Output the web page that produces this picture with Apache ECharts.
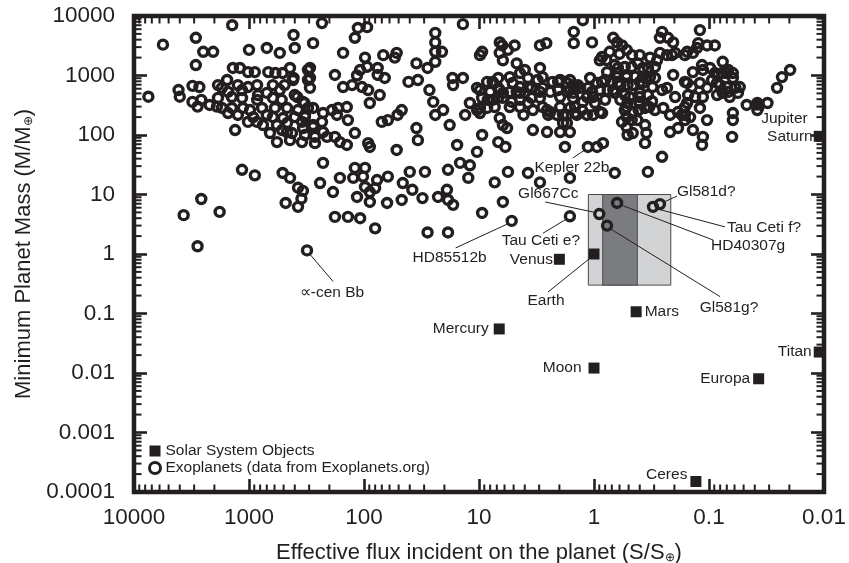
<!DOCTYPE html>
<html>
<head>
<meta charset="utf-8">
<script src="https://cdn.jsdelivr.net/npm/echarts@6/dist/echarts.min.js"></script>
<style>
  html, body { margin: 0; padding: 0; background: #ffffff; }
  #chart { width: 849px; height: 563px; }
</style>
</head>
<body>
<div id="chart"></div>
<script>
// ---- axis tick labels ----
const xTickLabels = ['10000', '1000', '100', '10', '1', '0.1', '0.01'];
const yTickLabels = ['10000', '1000', '100', '10', '1', '0.1', '0.01', '0.001', '0.0001'];

// ---- exoplanets: [effective flux S/S_earth, minimum mass M/M_earth] ----
const exoplanets = [
  [7500,440],[5600,3300],[2900,4300],[2500,2500],[2050,2500],[2900,1500],[1400,7000],[4100,570],[4000,440],[3100,670],
  [2700,640],[3100,360],[2600,390],[2800,300],[2200,320],[1900,300],[2600,8.4],[3700,4.5],[1800,5.1],[2800,1.35],
  [1150,26],[890,21],[510,23],[440,19],[480,7.2],[375,13],[375,6.2],[340,11.5],[350,8.5],
  [1000,2700],[700,2900],[540,2400],[410,4800],[400,2900],
  [1380,1340],[1200,1340],[1020,1140],[890,1140],[680,1140],[590,1100],[440,1340],[510,1100],[410,910],[295,1340],
  [295,910],[295,620],[1860,690],[1550,840],[1720,620],[1250,690],[1020,640],[850,690],[620,690],[490,690],
  [1520,530],[1150,570],[835,470],[700,510],[540,570],[400,470],[1860,420],[1410,435],[1150,420],[850,390],
  [620,420],[520,390],[380,435],[330,345],[1720,285],[1410,285],[1130,285],[980,263],[770,285],[594,285],
  [467,285],[375,263],[277,285],[1520,234],[1250,217],[920,200],[700,217],[620,200],[506,193],[400,200],
  [326,200],[1020,166],[852,166],[756,147],[571,147],[467,159],[346,166],[277,147],[232,166],[1320,121],
  [657,108],[516,121],[423,108],[326,100],[267,93],[227,112],[571,76],[440,82],[346,76],[267,73],
  [232,7600],[277,3500],[113,6300],[94,6500],[120,4300],[152,2400],[24,5200],[24,3600],[13.8,7300],[9.4,2500],
  [9.8,2200],[24,2500],[21,2500],[35,1600],[24,1700],[28,1340],[6.6,3600],[6.3,3200],[4.9,3200],[5.6,2700],
  [2.95,3200],[2.6,3500],[1.5,5400],[1.5,3500],[6.6,2400],[6.2,1800],[4.7,1600],[4.0,1240],[98,2000],[68,2200],
  [52,2400],[54,2000],[94,1400],[108,1240],[115,1000],[127,690],[104,640],[92,570],[76,1340],[76,1020],
  [66,910],[73,470],[89,345],[179,1020],[152,640],[307,1240],[307,840],[414,840],[41,780],[34,840],
  [27,570],[17,910],[16.8,690],[13.8,910],[10.4,620],[8.5,780],[7.6,780],[6.8,910],[5.4,940],[4.4,1100],
  [5.1,750],[3.75,910],[3.1,840],[2.8,940],[2.3,780],[2.05,780],[1.72,750],[1.52,690],[9.8,570],[8.0,530],
  [6.6,570],[5.4,530],[4.4,510],[3.5,620],[2.8,620],[2.05,570],[1.62,570],[25,360],[20.5,263],[24,217],
  [18,147],[13.2,217],[12,345],[9.8,285],[7.6,390],[6.2,420],[5.2,360],[4.4,390],[6.6,193],[6.2,147],
  [5.7,131],[4.1,217],[3.4,263],[2.8,295],[2.4,243],[1.97,295],[2.1,217],[1.72,217],[1.46,234],[3.4,121],
  [2.56,112],[1.86,159],[1.62,112],[1.79,63],[339,358],[307,285],[326,217],[227,234],[190,263],[168,285],
  [141,295],[172,217],[138,178],[277,136],[339,131],[467,112],[210,93],[179,93],[162,76],[141,68],
  [120,108],[92,73],[89,63],[70,166],[62,178],[51,217],[47,263],[35,131],[34,82],[52,56],
  [15.5,68],[9.4,100],[6.8,76],[5.9,63],[10.4,52],[227,34],[241,15.6],[186,11],[162,19],[120,28],
  [98,28],[124,19],[102,20],[98,13.4],[77,17.5],[89,11],[80,12.8],[115,9.1],[89,7.5],[62,20],
  [63,7.2],[47,8.1],[46,15.6],[38,12],[40,24],[29.5,24],[31,8.7],[22.7,9.1],[19,12],[18.6,8.1],
  [16.8,6.7],[18.6,26],[14.6,34],[12,31],[12.4,19],[7.3,16],[5.6,24],[6.2,7.5],[3.75,23],[2.95,16],
  [1.62,19],[179,4.2],[138,4.2],[108,4.0],[80,2.7],[28,2.3],[18.6,2.3],[9.4,4.9],
  [1.25,8500],[1.04,3600],[0.68,4300],[0.63,3600],[0.73,2500],[0.57,3200],[0.52,2700],[0.89,1800],[0.256,5400],[0.267,4300],
  [0.227,4300],[0.205,3600],[0.12,5800],[0.124,3500],[0.104,3200],[0.089,3200],[0.155,2500],[0.138,2400],[0.197,2400],[0.232,2200],
  [0.467,2200],[0.4,2200],[0.326,2000],[0.283,1800],[0.66,1500],[0.076,1700],[0.0197,1240],[0.0232,940],[0.0256,620],[0.414,1600],
  [0.375,1340],[0.339,1340],[1.97,840],[1.62,840],[1.38,690],[1.08,910],[0.94,750],[0.77,1140],[0.8,840],[0.63,940],
  [0.62,750],[0.52,940],[0.46,690],[0.4,780],[0.35,910],[0.295,910],[0.205,1020],[0.138,1140],[0.113,1240],[0.094,840],
  [0.0835,1020],[0.07,1100],[0.062,910],[0.054,640],[0.155,750],[0.141,640],[0.12,750],[0.104,620],[0.08,690],[0.068,530],
  [0.059,620],[0.197,435],[0.152,470],[0.155,345],[0.113,435],[0.085,470],[0.076,510],[0.066,435],[0.047,320],[0.038,345],
  [0.031,345],[1.97,435],[1.46,620],[1.52,420],[1.62,285],[1.02,435],[0.89,570],[0.98,345],[0.8,390],[1.27,263],
  [1.02,217],[0.85,234],[0.68,570],[0.59,390],[0.52,295],[0.49,435],[0.4,435],[0.34,470],[0.4,345],[0.41,263],
  [0.33,295],[0.295,263],[0.25,285],[0.218,217],[0.186,243],[0.162,295],[0.12,285],[1.86,217],[1.72,159],[1.97,112],
  [0.57,166],[0.52,136],[0.47,178],[0.46,108],[0.51,100],[0.36,147],[0.35,108],[0.36,73],[0.218,112],[0.186,131],
  [0.162,178],[0.172,217],[0.138,121],[0.113,93],[0.104,178],[0.062,234],[0.062,178],[0.063,93],[0.115,68],[0.94,63],
  [0.835,73],[0.256,43],[0.34,24],[0.66,23],
  [0.6,2300],[0.267,2400],[0.21,2200],[0.162,2200],[0.127,2900],[0.85,2050],[0.78,1820],[0.62,1340],[0.54,1390],[0.47,1390],
  [0.295,1390],[0.63,1100],[0.52,1020],[0.44,960],[0.375,940],[0.326,940],[0.115,1500],[0.098,1340],[0.089,1100],[0.077,1100],
  [0.068,1240],[0.062,1100],[0.85,780],[0.7,750],[0.59,690],[0.51,690],[0.375,750],[0.31,640],[0.162,780],[0.085,750],
  [0.07,640],[0.76,570],[0.66,510],[0.54,470],[0.4,510],[0.256,570],[0.232,620],[0.132,435],[0.056,510],[0.51,345],
  [0.36,285],[0.313,370],[0.54,263],[0.46,243],[0.52,200],[0.42,178],[0.162,217],[0.146,200],[0.89,243],[0.038,263],
  [2.95,1340],[4.4,640],[3.75,640],[1.32,620],[1.13,620],[6.8,620],[6.2,510],[4.7,530],[4.0,510],[2.95,530],
  [2.4,530],[1.72,530],[1.52,510],[1.15,435],[1.04,530],[9.4,420],[8.4,390],[6.8,420],[3.5,420],[2.95,420],
  [1.25,360],[10.4,263],[8.5,285],[7.3,295],[5.4,295],[4.4,295],[3.75,345],[9.8,234],[2.56,263],[2.5,217],
  [1.46,295],[1.41,217],[1.15,217]
];

// ---- labelled exoplanets ----
const namedPlanetNames = ['Kepler 22b', 'Gl667Cc', 'Tau Ceti e?', 'HD85512b', '\u221d-cen Bb', 'Gl581d?', 'Tau Ceti f?', 'HD40307g', 'Gl581g?'];
const namedPlanetFlux  = [1.13, 0.9, 1.62, 5.2, 313, 0.267, 0.307, 0.63, 0.77];
const namedPlanetMass  = [63, 4.7, 4.3, 3.6, 1.15, 6.9, 6.2, 7.2, 3.0];

// ---- solar system objects ----
const solarNames = ['Mercury', 'Venus', 'Earth', 'Moon', 'Mars', 'Ceres', 'Jupiter', 'Europa', 'Saturn', 'Titan'];
const solarFlux  = [6.67, 2.0, 1, 1, 0.43, 0.13, 0.037, 0.037, 0.011, 0.011];
const solarMass  = [0.055, 0.815, 1, 0.0121, 0.107, 0.00015, 318, 0.008, 95, 0.0225];

// ---- habitable zone (flux bounds, mass bounds) ----
const hzOuterFlux = [1.12, 0.215];
const hzInnerFlux = [0.84, 0.42];
const hzMass = [0.3, 10];

// ---- styling ----
const INK = '#231f20';
const FONT = "'Liberation Sans', Arial, Helvetica, sans-serif";
const MAJOR_TICK = 13, MINOR_TICK = 7.5;

// label placement for the solar system squares
const solarLabelStyle = {
  Mercury: { position: 'left', distance: 5 },
  Venus:   { position: 'left', distance: 1 },
  Earth:   { show: false },
  Moon:    { position: 'left', distance: 7 },
  Mars:    { position: 'right', distance: 3 },
  Ceres:   { position: 'left', distance: 3, offset: [0, -7] },
  Jupiter: { position: [8, 19], align: 'left', verticalAlign: 'middle' },
  Europa:  { position: 'left', distance: 3 },
  Saturn:  { position: 'left', distance: 1 },
  Titan:   { position: 'left', distance: 2 }
};

// leader lines and text offsets (pixels from the marker)
const noteLayout = {
  'Kepler 22b':   { from: [-3, 3],  to: [-15, 11], text: [-16, 21], align: 'center' },
  'Gl667Cc':      { from: [-6, -2], to: [-54, -12], text: [-51, -20], align: 'center' },
  'Tau Ceti e?':  { from: [-4, 3],  to: [-27, 17], text: [-29, 24], align: 'center' },
  'HD85512b':     { from: [-4, 3],  to: [-56, 27], text: [-62, 37], align: 'center' },
  '\u221d-cen Bb':{ from: [3, 4],   to: [26, 31],  text: [25, 42],  align: 'center' },
  'Gl581d?':      { from: [4, -2],  to: [17, -8],  text: [17, -12], align: 'left' },
  'Tau Ceti f?':  { from: [4, 2],   to: [72, 20],  text: [74, 21],  align: 'left' },
  'HD40307g':     { from: [4, 2],   to: [96, 37],  text: [94, 43],  align: 'left' },
  'Gl581g?':      { from: [3, 3],   to: [113, 71], text: [122, 82], align: 'center' },
  'Earth':        { from: [-5, 5],  to: [-46, 38], text: [-48, 47], align: 'center' }
};

// ---- derived data ----
const xDecades = xTickLabels.map(Number);
const yDecades = yTickLabels.map(Number);
const minorTicks = [];
for (let i = 1; i < xDecades.length; i++) {
  for (let m = 2; m <= 9; m++) minorTicks.push([m * xDecades[i], 1, 0]);
}
for (let i = 1; i < yDecades.length; i++) {
  for (let m = 2; m <= 9; m++) minorTicks.push([1, m * yDecades[i], 1]);
}

const exoData = exoplanets.concat(namedPlanetNames.map((n, i) => [namedPlanetFlux[i], namedPlanetMass[i]]));

const solarData = solarNames.map((n, i) => ({
  name: n,
  value: [solarFlux[i], solarMass[i]],
  label: Object.assign({ show: true }, solarLabelStyle[n])
}));

const earthIdx = solarNames.indexOf('Earth');
const noteNames = namedPlanetNames.concat(['Earth']);
const noteData = namedPlanetNames.map((n, i) => [namedPlanetFlux[i], namedPlanetMass[i]])
  .concat([[solarFlux[earthIdx], solarMass[earthIdx]]]);

const hzData = [
  [hzOuterFlux[0], hzOuterFlux[1], hzMass[0], hzMass[1], 0],
  [hzInnerFlux[0], hzInnerFlux[1], hzMass[0], hzMass[1], 1]
];

const xLabelFmt = v => xTickLabels[Math.round(4 - Math.log10(v))];
const yLabelFmt = v => yTickLabels[Math.round(4 - Math.log10(v))];

function xAxisCfg(pos, withLabels) {
  return {
    type: 'log', logBase: 10, min: 0.01, max: 10000, inverse: true, position: pos,
    axisLine: { show: false },
    axisTick: { show: true, inside: true, length: MAJOR_TICK, lineStyle: { color: INK, width: 2.6 } },
    axisLabel: { show: withLabels, margin: 14, formatter: xLabelFmt, fontSize: 22.5, color: INK, fontFamily: FONT, showMinLabel: true, showMaxLabel: true },
    splitLine: { show: false },
    name: withLabels ? 'Effective flux incident on the planet (S/S{sub|\u2295})' : '',
    nameLocation: 'middle', nameGap: 50,
    nameTextStyle: { fontSize: 22, color: INK, fontFamily: FONT,
      rich: { sub: { fontSize: 12, color: INK, fontFamily: FONT, verticalAlign: 'bottom' } } }
  };
}
function yAxisCfg(pos, withLabels) {
  return {
    type: 'log', logBase: 10, min: 0.0001, max: 10000, position: pos,
    axisLine: { show: false },
    axisTick: { show: true, inside: true, length: MAJOR_TICK, lineStyle: { color: INK, width: 2.6 } },
    axisLabel: { show: withLabels, margin: 19, formatter: yLabelFmt, fontSize: 22.5, color: INK, fontFamily: FONT, showMinLabel: true, showMaxLabel: true },
    splitLine: { show: false },
    name: withLabels ? 'Minimum Planet Mass (M/M{sub|\u2295})' : '',
    nameLocation: 'middle', nameGap: 99,
    nameTextStyle: { fontSize: 22, color: INK, fontFamily: FONT,
      rich: { sub: { fontSize: 12, color: INK, fontFamily: FONT, verticalAlign: 'bottom' } } }
  };
}

const chart = echarts.init(document.getElementById('chart'), null, { renderer: 'canvas' });
chart.setOption({
  animation: false,
  backgroundColor: '#ffffff',
  grid: {
    left: 134, right: 25, top: 16, bottom: 71,
    containLabel: false, outerBoundsMode: 'none',
    show: true, borderColor: INK, borderWidth: 4.5, backgroundColor: 'transparent'
  },
  xAxis: [xAxisCfg('bottom', true), xAxisCfg('top', false)],
  yAxis: [yAxisCfg('left', true), yAxisCfg('right', false)],
  legend: {
    left: 143, top: 438, orient: 'vertical', itemGap: 1, itemWidth: 11, itemHeight: 11, selectedMode: false,
    textStyle: { fontSize: 15.5, color: INK, fontFamily: FONT },
    data: [
      { name: 'Solar System Objects', icon: 'rect', itemStyle: { color: INK, borderWidth: 0 } },
      { name: 'Exoplanets (data from Exoplanets.org)', icon: 'circle', itemStyle: { color: '#ffffff', borderColor: INK, borderWidth: 3 } }
    ]
  },
  series: [
    {
      // habitable zone boxes
      type: 'custom', name: 'hz', z: 1, silent: true,
      encode: { x: [0, 1], y: [2, 3] },
      data: hzData,
      renderItem: (params, api) => {
        const p1 = api.coord([api.value(0), api.value(3)]);
        const p2 = api.coord([api.value(1), api.value(2)]);
        const dark = api.value(4) === 1;
        return {
          type: 'rect',
          shape: { x: p1[0], y: p1[1], width: p2[0] - p1[0], height: p2[1] - p1[1] },
          style: { fill: dark ? '#7b7c7f' : '#d2d3d5', stroke: '#4a4a4c', lineWidth: 1 }
        };
      }
    },
    {
      // minor ticks on all four sides
      type: 'custom', name: 'minorTicks', z: 5, silent: true,
      encode: { x: 0, y: 1 },
      data: minorTicks,
      renderItem: (params, api) => {
        const cs = params.coordSys;
        const style = { stroke: INK, lineWidth: 2 };
        if (api.value(2) === 0) {
          const px = api.coord([api.value(0), 1])[0];
          return { type: 'group', children: [
            { type: 'line', shape: { x1: px, y1: cs.y + cs.height, x2: px, y2: cs.y + cs.height - MINOR_TICK }, style },
            { type: 'line', shape: { x1: px, y1: cs.y, x2: px, y2: cs.y + MINOR_TICK }, style }
          ] };
        }
        const py = api.coord([1, api.value(1)])[1];
        return { type: 'group', children: [
          { type: 'line', shape: { x1: cs.x, y1: py, x2: cs.x + MINOR_TICK, y2: py }, style },
          { type: 'line', shape: { x1: cs.x + cs.width, y1: py, x2: cs.x + cs.width - MINOR_TICK, y2: py }, style }
        ] };
      }
    },
    {
      // leader lines and names
      type: 'custom', name: 'notes', z: 2, silent: true,
      encode: { x: 0, y: 1 },
      data: noteData,
      renderItem: (params, api) => {
        const name = noteNames[params.dataIndex];
        const lay = noteLayout[name];
        const p = api.coord([api.value(0), api.value(1)]);
        return { type: 'group', children: [
          { type: 'line', shape: { x1: p[0] + lay.from[0], y1: p[1] + lay.from[1], x2: p[0] + lay.to[0], y2: p[1] + lay.to[1] },
            style: { stroke: INK, lineWidth: 1 } },
          { type: 'text', x: p[0] + lay.text[0], y: p[1] + lay.text[1],
            style: { text: name, fill: INK, fontSize: 15.5, fontFamily: FONT, align: lay.align, verticalAlign: 'middle' } }
        ] };
      }
    },
    {
      name: 'Exoplanets (data from Exoplanets.org)',
      type: 'scatter', z: 3, silent: true,
      symbol: 'circle', symbolSize: 9,
      itemStyle: { color: 'rgba(255,255,255,0)', borderColor: INK, borderWidth: 3.4, opacity: 1 },
      data: exoData
    },
    {
      name: 'Solar System Objects',
      type: 'scatter', z: 4, silent: true,
      symbol: 'rect', symbolSize: 11,
      itemStyle: { color: INK, opacity: 1 },
      label: { show: true, color: INK, fontSize: 15.5, fontFamily: FONT, formatter: '{b}' },
      data: solarData
    }
  ]
});
</script>
</body>
</html>
